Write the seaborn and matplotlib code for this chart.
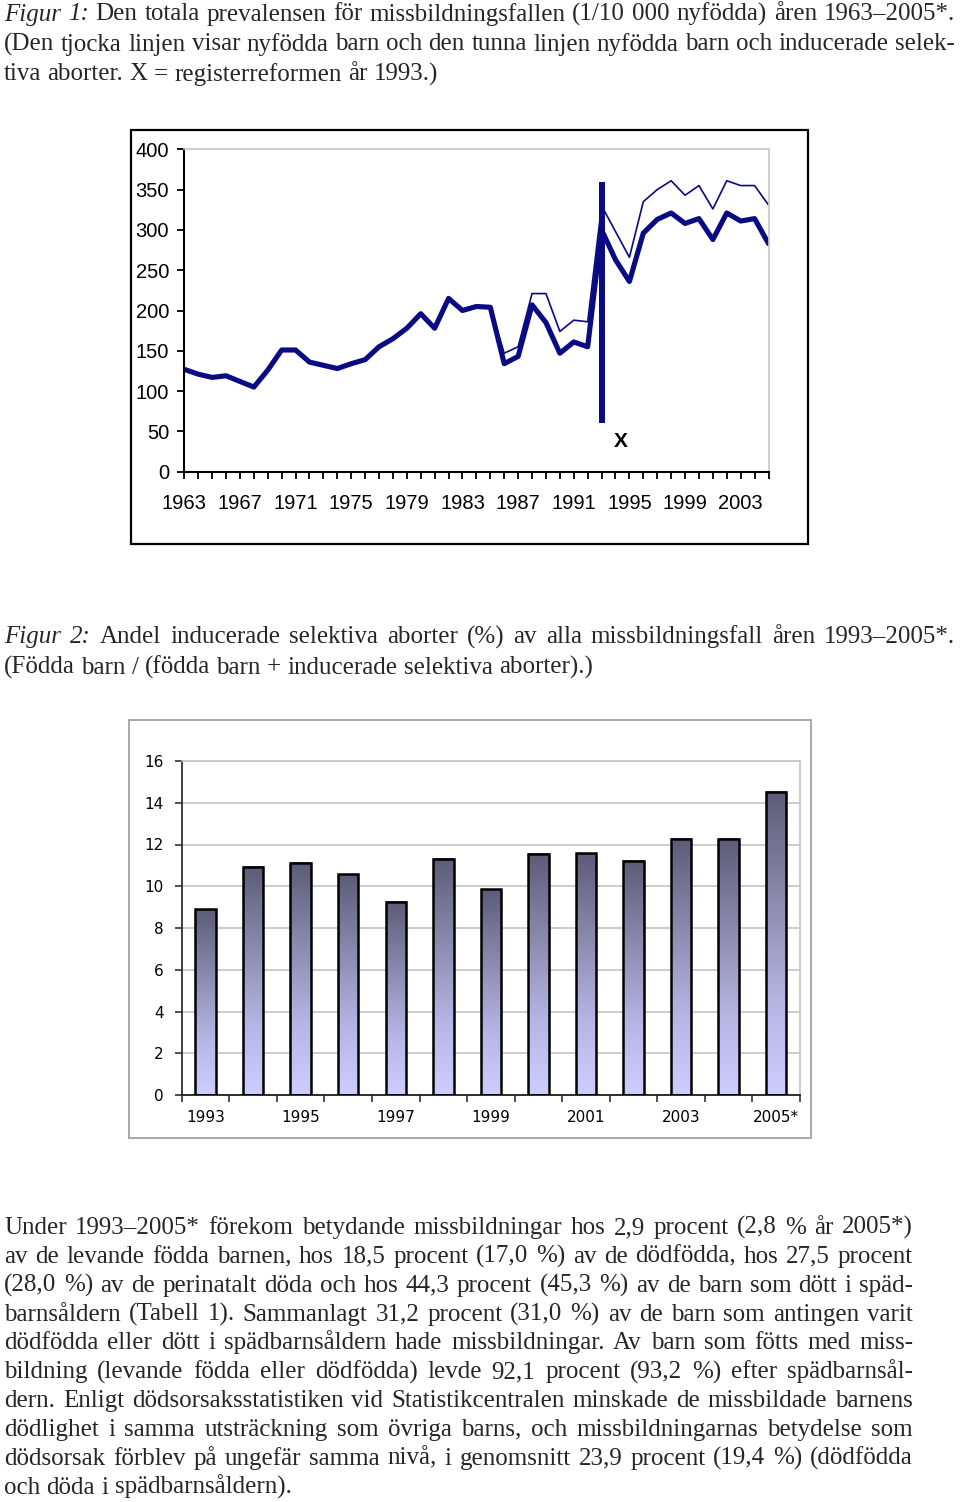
import matplotlib
matplotlib.use("Agg")
import matplotlib.pyplot as plt
from matplotlib.patches import Rectangle
from matplotlib.colors import LinearSegmentedColormap
import seaborn as sns
import pandas as pd
import numpy as np

sns.set_theme(style="white")
plt.rcParams["font.family"] = ["Liberation Sans Narrow", "Liberation Sans", "DejaVu Sans"]

W, H = 960, 1502

# Figur 1: total prevalens (1/10 000 nyfödda)
years_line = list(range(1963, 2006))
fodda = [127, 121, 117, 119, 112, 105, 126, 151, 151, 136, 132, 128, 134, 139, 155,
         165, 178, 196, 178, 215, 200, 205, 204, 134, 143, 207, 185, 147, 161, 155,
         300, 263, 236, 296, 313, 321, 308, 314, 288, 321, 311, 314, 283]
fodda_abort = [127, 121, 117, 119, 112, 105, 126, 151, 151, 136, 132, 128, 134, 139, 155,
               165, 178, 196, 178, 215, 200, 205, 204, 147, 155, 221, 221, 174, 188, 186,
               330, 298, 266, 335, 350, 361, 343, 355, 326, 361, 355, 355, 331]
reform_year = 1993
x_tick_years = list(range(1963, 2006, 4))

# Figur 2: andel inducerade selektiva aborter (%)
bar_years = ["1993", "1994", "1995", "1996", "1997", "1998", "1999", "2000",
             "2001", "2002", "2003", "2004", "2005*"]
andel = [8.9, 10.94, 11.13, 10.57, 9.26, 11.31, 9.85, 11.55, 11.58, 11.23, 12.27, 12.27, 14.52]

navy = "#0a0a82"
serif = ["Liberation Serif", "DejaVu Serif"]


def px_rect(l, t, r, b):
    return [l / W, 1 - b / H, (r - l) / W, (b - t) / H]


def frame(l, t, r, b, color, lw):
    fig.patches.append(Rectangle((l / W, 1 - b / H), (r - l) / W, (b - t) / H,
                                 transform=fig.transFigure, fill=False,
                                 edgecolor=color, linewidth=lw, zorder=0))


fig = plt.figure(figsize=(W / 100, H / 100), dpi=100)
renderer = fig.canvas.get_renderer()


# rad med marginaljustering (ord för ord)
def put_line(y, text, right, justify=True, size=18, italic_n=0, left=4):
    words = text.split(" ")
    objs = []
    for i, w in enumerate(words):
        t = fig.text(0, 1 - y / H, w, fontsize=size, family=serif,
                     style="italic" if i < italic_n else "normal", va="baseline", ha="left")
        objs.append(t)
    widths = [t.get_window_extent(renderer).width for t in objs]
    if justify and len(words) > 1:
        gap = (right - left - sum(widths)) / (len(words) - 1)
    else:
        gap = size * 100 / 72 * 0.25
    x = left
    for t, w in zip(objs, widths):
        t.set_x(x / W)
        x += w + gap
    return gap


def put_par(y0, step, lines, right, size, italic_first=0):
    # minskar storleken om raderna inte får plats
    while True:
        ok = True
        for i, s in enumerate(lines):
            ws = [fig.text(0, 0, w, fontsize=size, family=serif).get_window_extent(renderer).width
                  for w in s.split(" ")]
            for t in fig.texts[-len(ws):]:
                t.remove()
            if sum(ws) + 0.16 * size * 100 / 72 * (len(ws) - 1) > right - 4:
                ok = False
        if ok:
            break
        size -= 0.25
    for i, s in enumerate(lines):
        put_line(y0 + step * i, s, right, justify=(i < len(lines) - 1), size=size,
                 italic_n=italic_first if i == 0 else 0)


fig1_lines = ["Figur 1: Den totala prevalensen för missbildningsfallen (1/10 000 nyfödda) åren 1963–2005*.",
              "(Den tjocka linjen visar nyfödda barn och den tunna linjen nyfödda barn och inducerade selek-",
              "tiva aborter. X = registerreformen år 1993.)"]
put_par(20.5, 30, fig1_lines, 955, 18, italic_first=2)

fig2_lines = ["Figur 2: Andel inducerade selektiva aborter (%) av alla missbildningsfall åren 1993–2005*.",
              "(Födda barn / (födda barn + inducerade selektiva aborter).)"]
put_par(643.5, 30, fig2_lines, 955, 18, italic_first=2)

body = ["Under 1993–2005* förekom betydande missbildningar hos 2,9 procent (2,8 % år 2005*)",
        "av de levande födda barnen, hos 18,5 procent (17,0 %) av de dödfödda, hos 27,5 procent",
        "(28,0 %) av de perinatalt döda och hos 44,3 procent (45,3 %) av de barn som dött i späd-",
        "barnsåldern (Tabell 1). Sammanlagt 31,2 procent (31,0 %) av de barn som antingen varit",
        "dödfödda eller dött i spädbarnsåldern hade missbildningar. Av barn som fötts med miss-",
        "bildning (levande födda eller dödfödda) levde 92,1 procent (93,2 %) efter spädbarnsål-",
        "dern. Enligt dödsorsaksstatistiken vid Statistikcentralen minskade de missbildade barnens",
        "dödlighet i samma utsträckning som övriga barns, och missbildningarnas betydelse som",
        "dödsorsak förblev på ungefär samma nivå, i genomsnitt 23,9 procent (19,4 %) (dödfödda",
        "och döda i spädbarnsåldern)."]
put_par(1234, 28.85, body, 913, 18)

# ---------- Figur 1: linjediagram ----------
frame(131, 130, 808, 544, "black", 1.6)
ax1 = fig.add_axes(px_rect(184.3, 149.3, 768.5, 471.7))
df_line = pd.DataFrame({"year": years_line, "fodda": fodda, "fodda_abort": fodda_abort})
sns.lineplot(data=df_line, x="year", y="fodda_abort", ax=ax1, color=navy, linewidth=1.2,
             solid_joinstyle="round")
sns.lineplot(data=df_line, x="year", y="fodda", ax=ax1, color=navy, linewidth=3.7,
             solid_joinstyle="round", solid_capstyle="round")
ax1.vlines(reform_year, 61, 360, color=navy, linewidth=4.3)
ax1.text(reform_year + 1.4, 37, "X", ha="center", va="center", fontsize=15,
         fontweight="bold", color="black")
ax1.set_xlim(1963, 2005)
ax1.set_ylim(0, 400)
ax1.set_xticks(years_line)
ax1.set_xticklabels([str(y) if y in x_tick_years else "" for y in years_line])
ax1.set_yticks(range(0, 401, 50))
ax1.tick_params(axis="both", direction="out", length=5, width=1.3, color="black",
                labelsize=14.5, labelcolor="black", bottom=True, left=True)
ax1.tick_params(axis="x", pad=11)
ax1.tick_params(axis="y", pad=6)
ax1.set_xlabel("")
ax1.set_ylabel("")
for s in ["left", "bottom"]:
    ax1.spines[s].set_color("black")
    ax1.spines[s].set_linewidth(1.5)
for s in ["top", "right"]:
    ax1.spines[s].set_color("#c8c8c8")
    ax1.spines[s].set_linewidth(1.2)

# ---------- Figur 2: stapeldiagram ----------
frame(129, 720, 811, 1138, "#a8a8a8", 1.4)
ax2 = fig.add_axes(px_rect(181.7, 761, 800, 1095))
df_bar = pd.DataFrame({"ar": bar_years, "andel": andel})
sns.barplot(data=df_bar, x="ar", y="andel", ax=ax2, width=0.43, color="white",
            edgecolor="black", linewidth=1.8, zorder=3)
grad = LinearSegmentedColormap.from_list("grad", [(0.0, "#cdcdff"), (0.3, "#b6b6e6"),
                                                  (0.65, "#8a8aae"), (1.0, "#5c5c78")])
g = np.linspace(0, 1, 256).reshape(-1, 1)
for p in ax2.patches:
    x0, w, h = p.get_x(), p.get_width(), p.get_height()
    ax2.imshow(g, extent=[x0, x0 + w, 0, h], origin="lower", aspect="auto", cmap=grad,
               zorder=2.5, interpolation="bicubic")
    p.set_facecolor("none")
ax2.set_xlim(-0.5, 12.5)
ax2.set_ylim(0, 16)
ax2.set_yticks(range(0, 17, 2))
ax2.yaxis.grid(True, color="#c4c4c4", linewidth=1.2)
ax2.set_axisbelow(True)
ax2.set_xticks(range(0, 13, 2))
ax2.set_xticklabels([bar_years[i] for i in range(0, 13, 2)])
ax2.set_xticks(np.arange(-0.5, 13, 1), minor=True)
ax2.tick_params(axis="x", which="major", length=0, pad=11, labelsize=11,
                labelfontfamily="DejaVu Sans", labelcolor="black")
ax2.tick_params(axis="x", which="minor", direction="out", length=5, width=1.2,
                color="#303030", bottom=True)
ax2.tick_params(axis="y", direction="out", length=5, width=1.2, color="#303030", pad=8,
                labelsize=11, labelfontfamily="DejaVu Sans", labelcolor="black", left=True)
ax2.set_xlabel("")
ax2.set_ylabel("")
ax2.spines["left"].set_color("#303030")
ax2.spines["bottom"].set_color("#202020")
ax2.spines["left"].set_linewidth(1.3)
ax2.spines["bottom"].set_linewidth(1.3)
ax2.spines["top"].set_color("#c4c4c4")
ax2.spines["right"].set_color("#c4c4c4")
ax2.spines["top"].set_linewidth(1.2)
ax2.spines["right"].set_linewidth(1.2)

fig.savefig("out.png", dpi=100)
